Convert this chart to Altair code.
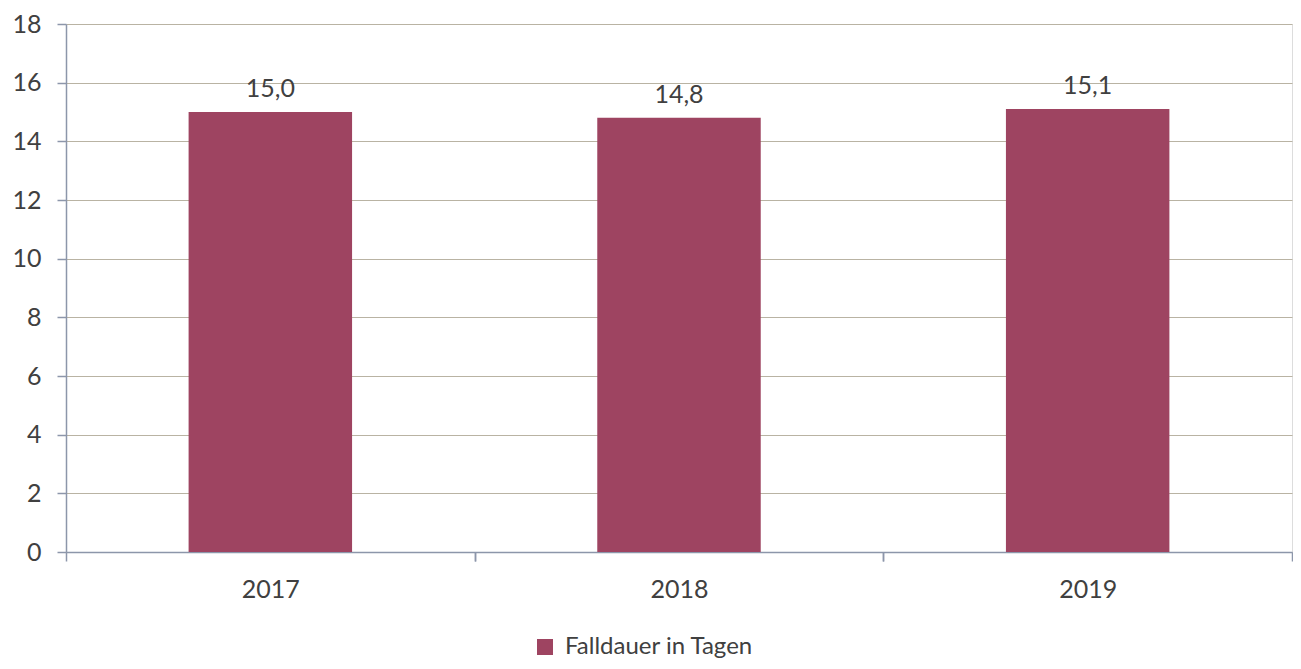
import altair as alt
import pandas as pd

years = ["2017", "2018", "2019"]
values = [15.0, 14.8, 15.1]
series_name = "Falldauer in Tagen"
y_ticks = [0, 2, 4, 6, 8, 10, 12, 14, 16, 18]

df = pd.DataFrame({
    "Jahr": years,
    "Wert": values,
    "Serie": [series_name] * len(years),
    "Label": [f"{v:.1f}".replace(".", ",") for v in values],
})

FONT = "Lato"
TXT = "#404040"
AX = "#8C96AA"
GRID = "#B9B3A3"
BAR = "#9E4461"

W = 1226
H = 528
STEP = W / len(years)

x_scale = alt.Scale(paddingInner=0.6, paddingOuter=0.3)

x_enc = alt.X(
    "Jahr:N",
    scale=x_scale,
    axis=alt.Axis(
        title=None, labelAngle=0, domainColor=AX, orient="bottom",
        tickColor=AX, tickSize=9, tickOffset=-STEP / 2, labelOffset=STEP / 2,
        labelPadding=16, labelFontSize=25, labelColor=TXT, labelFont=FONT,
        domainWidth=1.5, tickWidth=1.5,
    ),
)
x_enc2 = alt.X(
    "Jahr:N",
    scale=x_scale,
    axis=alt.Axis(
        title=None, labels=False, domain=False, orient="bottom",
        tickColor=AX, tickSize=9, tickOffset=STEP / 2, tickWidth=1.5,
    ),
)
y_enc = alt.Y(
    "Wert:Q",
    scale=alt.Scale(domain=[0, 18], nice=False),
    axis=alt.Axis(
        title=None, values=y_ticks, domainColor=AX, tickColor=AX, tickSize=9,
        labelPadding=16, labelFontSize=25, labelColor=TXT, labelFont=FONT,
        gridColor=GRID, gridWidth=1, domainWidth=1.5, tickWidth=1.5,
    ),
)

bars = alt.Chart(df).mark_bar().encode(
    x=x_enc,
    y=y_enc,
    color=alt.Color(
        "Serie:N",
        scale=alt.Scale(range=[BAR]),
        legend=alt.Legend(
            title=None, orient="none", legendX=467, legendY=611,
            symbolType="square", symbolSize=256, symbolStrokeWidth=0,
            labelFontSize=24, labelColor=TXT, labelFont=FONT, labelOffset=8,
            labelLimit=400, padding=0,
        ),
    ),
)

labels = alt.Chart(df).mark_text(
    baseline="alphabetic", dy=-15, fontSize=25, color=TXT, font=FONT
).encode(x=x_enc2, y=alt.Y("Wert:Q"), text="Label:N")

chart = (
    alt.layer(bars, labels)
    .resolve_axis(x="independent")
    .properties(
        width=W, height=H,
        autosize=alt.AutoSizeParams(type="none"),
        padding={"left": 58, "top": 16, "right": 1, "bottom": 108},
    )
    .configure_view(stroke=AX, strokeWidth=1.5)
    .configure(background="white")
)

chart.save("out.html", embed_options={"renderer": "svg", "actions": False})
